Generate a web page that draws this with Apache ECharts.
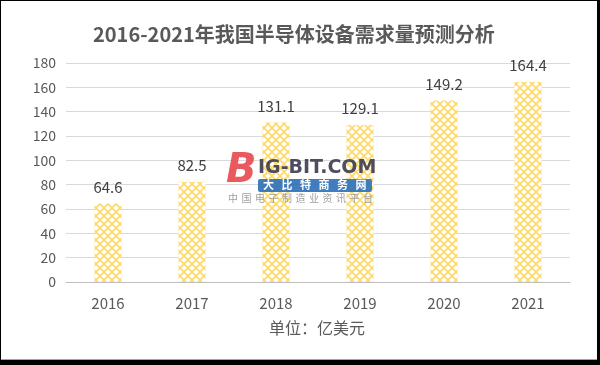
<!DOCTYPE html>
<html>
<head>
<meta charset="utf-8">
<script src="https://cdn.jsdelivr.net/npm/echarts@6/dist/echarts.min.js"></script>
<style>
  html, body { margin: 0; padding: 0; background: #000; }
  .paper { position: absolute; left: 1px; top: 1px; width: 596px; height: 358px; background: #fff; border-bottom: 1px solid #a6a6a6; }
  #chart { position: absolute; left: 0; top: 0; width: 600px; height: 365px; }
</style>
</head>
<body>
<div class="paper"></div>
<div id="chart"></div>
<script>
  // 数据
  var years = ['2016', '2017', '2018', '2019', '2020', '2021'];
  var demand = [64.6, 82.5, 131.1, 129.1, 149.2, 164.4];
  var yTicks = [0, 20, 40, 60, 80, 100, 120, 140, 160, 180];

  var font = '"Noto Sans CJK SC", "Noto Sans", sans-serif';

  // 网格填充
  function makePattern() {
    var c = document.createElement('canvas');
    c.width = 8;
    c.height = 8;
    var ctx = c.getContext('2d');
    ctx.fillStyle = '#fff';
    ctx.fillRect(0, 0, 8, 8);
    ctx.strokeStyle = '#ffd966';
    ctx.lineWidth = 1.6;
    ctx.beginPath();
    ctx.moveTo(0, 0); ctx.lineTo(8, 8);
    ctx.moveTo(8, 0); ctx.lineTo(0, 8);
    ctx.stroke();
    return c;
  }

  // 水印文字逐字排开
  function spread(str, x0, step, y, fontStr, fill) {
    return str.split('').map(function (ch, i) {
      return {
        type: 'text', left: x0 + i * step, top: y, z: 101,
        style: { text: ch, font: fontStr, fill: fill }
      };
    });
  }

  var graphics = [
    {
      type: 'text', left: 269, top: 320,
      style: { text: '单位：亿美元', font: '16px ' + font, fill: '#595959' }
    },
    {
      type: 'text', left: 226, top: 152, z: 100,
      style: { text: 'B', font: 'bold italic 40px "DejaVu Sans", sans-serif', fill: '#e8474b', opacity: 0.9 }
    },
    {
      type: 'text', left: 258, top: 159, z: 100,
      style: { text: 'IG-BIT.COM', font: 'bold 19px "DejaVu Sans", sans-serif', fill: '#3b3b4f', opacity: 0.9 }
    },
    {
      type: 'rect', z: 100, shape: { x: 258, y: 179, width: 114, height: 13, r: 2 },
      style: { fill: '#2a6fb8', opacity: 0.9 }
    }
  ]
    .concat(spread('大比特商务网', 263, 18.5, 179, 'bold 11px ' + font, '#fff'))
    .concat(spread('中国电子制造业资讯平台', 228, 13.5, 193, '10px ' + font, '#a0a0a0'));

  var myChart = echarts.init(document.getElementById('chart'));
  myChart.setOption({
    backgroundColor: 'transparent',
    title: {
      text: '2016-2021年我国半导体设备需求量预测分析',
      left: 88,
      top: 19,
      textStyle: { fontFamily: font, fontSize: 20, fontWeight: 'bold', color: '#595959' }
    },
    grid: { left: 66, right: 30, top: 63, bottom: 83 },
    xAxis: {
      type: 'category',
      data: years,
      axisLine: { lineStyle: { color: '#bfbfbf' } },
      axisTick: { show: false },
      axisLabel: { color: '#595959', fontSize: 15, fontFamily: font, margin: 14 }
    },
    yAxis: {
      type: 'value',
      min: yTicks[0],
      max: yTicks[yTicks.length - 1],
      interval: 20,
      axisLine: { show: false },
      axisTick: { show: false },
      axisLabel: { color: '#595959', fontSize: 14, fontFamily: font, margin: 10 },
      splitLine: { lineStyle: { color: '#d9d9d9' } }
    },
    series: [{
      type: 'bar',
      data: demand,
      barWidth: 27,
      itemStyle: { color: { image: makePattern(), repeat: 'repeat' } },
      label: {
        show: true,
        position: 'top',
        distance: 9,
        color: '#404040',
        fontSize: 15,
        fontFamily: font
      }
    }],
    graphic: graphics
  });
</script>
</body>
</html>
